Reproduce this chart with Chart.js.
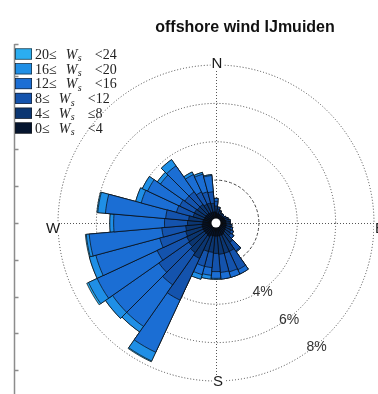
<!DOCTYPE html>
<html>
<head>
<meta charset="utf-8">
<script src="https://cdn.jsdelivr.net/npm/chart.js@4.4.0/dist/chart.umd.min.js"></script>
<style>
    html, body { margin: 0; padding: 0; background: #fff; }
    canvas { display: block; }
</style>
</head>
<body>
<canvas id="windRose" width="378" height="394"></canvas>
<script>
// ===============================
// Wind rose - offshore wind IJmuiden
// ===============================

// direction of each bar, degrees clockwise from north
const directions = [0, 10, 20, 30, 40, 50, 60, 70, 80, 90, 100, 110,
    120, 130, 140, 150, 160, 170, 180, 190, 200, 210, 220, 230,
    240, 250, 260, 270, 280, 290, 300, 310, 320, 330, 340, 350];

// frequency (%) of each wind speed class per direction
const ws0to4 = [0.30, 0.25, 0.25, 0.22, 0.22, 0.22, 0.25, 0.25, 0.28, 0.28, 0.30, 0.30,
    0.32, 0.35, 0.40, 0.45, 0.45, 0.45, 0.45, 0.45, 0.45, 0.55, 0.50, 0.50,
    0.50, 0.50, 0.50, 0.45, 0.45, 0.40, 0.40, 0.40, 0.40, 0.35, 0.35, 0.35];
const ws4to8 = [0.35, 0.25, 0.15, 0.12, 0.12, 0.10, 0.12, 0.15, 0.18, 0.18, 0.22, 0.25,
    0.30, 0.35, 0.60, 0.95, 0.95, 0.95, 0.90, 0.85, 0.85, 1.25, 1.15, 1.00,
    0.95, 0.90, 0.85, 0.80, 0.75, 0.60, 0.60, 0.55, 0.55, 0.50, 0.50, 0.45];
const ws8to12 = [0.25, 0.10, 0.05, 0, 0, 0, 0, 0.05, 0.06, 0.06, 0.08, 0.12,
    0.15, 0.20, 0.55, 1.05, 1.00, 0.95, 0.95, 0.80, 0.80, 2.40, 2.05, 1.90,
    1.70, 1.40, 1.25, 1.20, 1.20, 0.90, 0.85, 0.80, 0.80, 0.70, 0.60, 0.60];
const ws12to16 = [0.15, 0, 0, 0, 0, 0, 0, 0, 0, 0, 0, 0,
    0, 0, 0.05, 0.25, 0.30, 0.35, 0.35, 0.40, 0.45, 3.00, 2.65, 2.95,
    3.45, 3.45, 3.80, 2.65, 3.15, 1.90, 1.85, 1.55, 1.65, 1.00, 0.95, 0.85];
const ws16to20 = [0, 0, 0, 0, 0, 0, 0, 0, 0, 0, 0, 0,
    0, 0, 0, 0, 0, 0, 0.05, 0.20, 0.25, 0.50, 0.35, 0.45,
    0.50, 0.35, 0.15, 0.20, 0.40, 0.30, 0.30, 0.20, 0.40, 0.15, 0.10, 0.05];
const ws20to24 = [0, 0, 0, 0, 0, 0, 0, 0, 0, 0, 0, 0,
    0, 0, 0, 0, 0, 0, 0, 0, 0, 0.05, 0, 0,
    0.10, 0, 0.05, 0, 0.05, 0, 0, 0, 0, 0, 0, 0];

// legend text pieces, slowest class first
const speedLow = ["0", "4", "8", "12", "16", "20"];
const speedHigh = ["<4", "\u22648", "<12", "<16", "<20", "<24"];

// rings and their labels
const ringValues = [2, 4, 6, 8];
const ringLabels = ["4%", "6%", "8%"];
const ringLabelValues = [4, 6, 8];
const compassLabels = ["N", "E", "S", "W"];

const binColors = ["#05152f", "#0b3672", "#1453ad", "#1b6ed4", "#1f8fe6", "#2badf0"];

const bins = [ws0to4, ws4to8, ws8to12, ws12to16, ws16to20, ws20to24];

// stack the classes: dataset k holds the total up to class k,
// dataset 0 is drawn last so the slow winds sit on top near the centre
let running = directions.map(() => 0);
const datasets = bins.map((bin, k) => {
    running = running.map((v, i) => v + bin[i]);
    return {
        label: speedLow[k] + "\u2264 Ws " + speedHigh[k],
        data: running.slice(),
        backgroundColor: binColors[k],
        borderColor: "#0a0a0a",
        borderWidth: 0.7
    };
});

const SANS = '"Liberation Sans", Arial, Helvetica, sans-serif';
const SERIF = '"Liberation Serif", "Times New Roman", "DejaVu Serif", serif';

function drawLegend(ctx) {
    for (let row = 0; row < 6; row++) {
        const k = 5 - row;
        const yc = 54 + row * 14.8;
        ctx.fillStyle = binColors[k];
        ctx.fillRect(15, yc - 5.5, 17, 11);
        ctx.strokeStyle = "#1a1a1a";
        ctx.lineWidth = 0.6;
        ctx.strokeRect(15.3, yc - 5.2, 16.4, 10.4);

        const base = yc + 4.7;
        let x = 35;
        ctx.fillStyle = "#222";
        ctx.textAlign = "left";
        ctx.textBaseline = "alphabetic";
        ctx.font = "14px " + SERIF;
        const lead = speedLow[k] + "\u2264";
        ctx.fillText(lead, x, base);
        x += ctx.measureText(lead).width + 9;
        ctx.font = "italic 14px " + SERIF;
        ctx.fillText("W", x, base);
        x += ctx.measureText("W").width + 0.5;
        ctx.font = "italic 10px " + SERIF;
        ctx.fillText("s", x, base + 2.5);
        x += ctx.measureText("s").width + 13;
        ctx.font = "14px " + SERIF;
        ctx.fillText(speedHigh[k], x, base);
    }
}

const roseDecor = {
    id: "roseDecor",
    beforeDatasetsDraw(chart) {
        // dotted N-S and E-W lines
        const s = chart.scales.r;
        const ctx = chart.ctx;
        const R = s.getDistanceFromCenterForValue(s.max);
        ctx.save();
        ctx.strokeStyle = "#555";
        ctx.lineWidth = 1;
        ctx.setLineDash([1, 2]);
        ctx.beginPath();
        ctx.moveTo(s.xCenter + 0.5, s.yCenter - R);
        ctx.lineTo(s.xCenter + 0.5, s.yCenter + R);
        ctx.moveTo(s.xCenter - R, s.yCenter + 0.5);
        ctx.lineTo(s.xCenter + R, s.yCenter + 0.5);
        ctx.stroke();
        ctx.restore();
    },
    afterDatasetsDraw(chart) {
        // hole in the middle
        const s = chart.scales.r;
        const ctx = chart.ctx;
        const hole = s.getDistanceFromCenterForValue(0);
        ctx.save();
        ctx.fillStyle = "#fff";
        ctx.beginPath();
        ctx.arc(s.xCenter, s.yCenter, hole, 0, Math.PI * 2);
        ctx.fill();
        ctx.restore();
    },
    afterDraw(chart) {
        const s = chart.scales.r;
        const ctx = chart.ctx;
        const R = s.drawingArea;
        const cx = s.xCenter, cy = s.yCenter;
        ctx.save();

        // left axis remnant
        ctx.strokeStyle = "#8c8c8c";
        ctx.lineWidth = 1.5;
        ctx.beginPath();
        ctx.moveTo(14.5, 44);
        ctx.lineTo(14.5, 394);
        for (let k = -4; k <= 4; k++) {
            const y = Math.round(cy + k * 36.8) + 0.5;
            ctx.moveTo(14.5, y);
            ctx.lineTo(18.5, y);
        }
        ctx.moveTo(14.5, 44.5);
        ctx.lineTo(18.5, 44.5);
        ctx.stroke();

        // title
        ctx.fillStyle = "#111";
        ctx.font = "bold 16px " + SANS;
        ctx.textAlign = "center";
        ctx.textBaseline = "middle";
        ctx.fillText("offshore wind IJmuiden", 245, 28);

        // compass letters
        ctx.font = "15px " + SANS;
        const spots = [
            [cx + 1, cy - R - 1],
            [cx + R + 6, cy + 6],
            [cx + 2, cy + R + 1],
            [cx - R - 5, cy + 6]
        ];
        compassLabels.forEach((t, i) => {
            const w = ctx.measureText(t).width;
            ctx.fillStyle = "#fff";
            ctx.fillRect(spots[i][0] - w / 2 - 1, spots[i][1] - 6, w + 2, 12);
            ctx.fillStyle = "#1a1a1a";
            ctx.fillText(t, spots[i][0], spots[i][1]);
        });

        // ring percentages
        ctx.font = "14px " + SANS;
        ctx.fillStyle = "#333";
        const angles = [146, 143, 141];
        ringLabels.forEach((t, i) => {
            const r = s.getDistanceFromCenterForValue(ringLabelValues[i]) + 2;
            const a = angles[i] * Math.PI / 180;
            ctx.fillText(t, cx + r * Math.sin(a), cy - r * Math.cos(a));
        });

        drawLegend(ctx);
        ctx.restore();
    }
};

let roseCanvas = document.getElementById("windRose");

new Chart(roseCanvas.getContext("2d"), {

    type: "polarArea",

    data: {
        labels: directions.map(d => d + "\u00b0"),
        datasets: datasets
    },

    options: {
        responsive: false,
        animation: false,
        events: [],
        layout: {
            padding: { left: 58, right: 4, top: 65, bottom: 13 }
        },
        plugins: {
            legend: { display: false },
            title: { display: false },
            tooltip: { enabled: false }
        },
        scales: {
            r: {
                min: -0.235,
                max: 8,
                startAngle: -5,
                afterBuildTicks: (scale) => {
                    scale.ticks = ringValues.map(v => ({ value: v }));
                },
                ticks: { display: false },
                grid: { circular: true, color: "#444", lineWidth: 1 },
                border: {
                    dash: (ctx) => (ctx.tick && ctx.tick.value === 2) ? [3, 2] : [1, 2]
                },
                angleLines: { display: false },
                pointLabels: { display: false }
            }
        }
    },

    plugins: [roseDecor]

});
</script>
</body>
</html>
